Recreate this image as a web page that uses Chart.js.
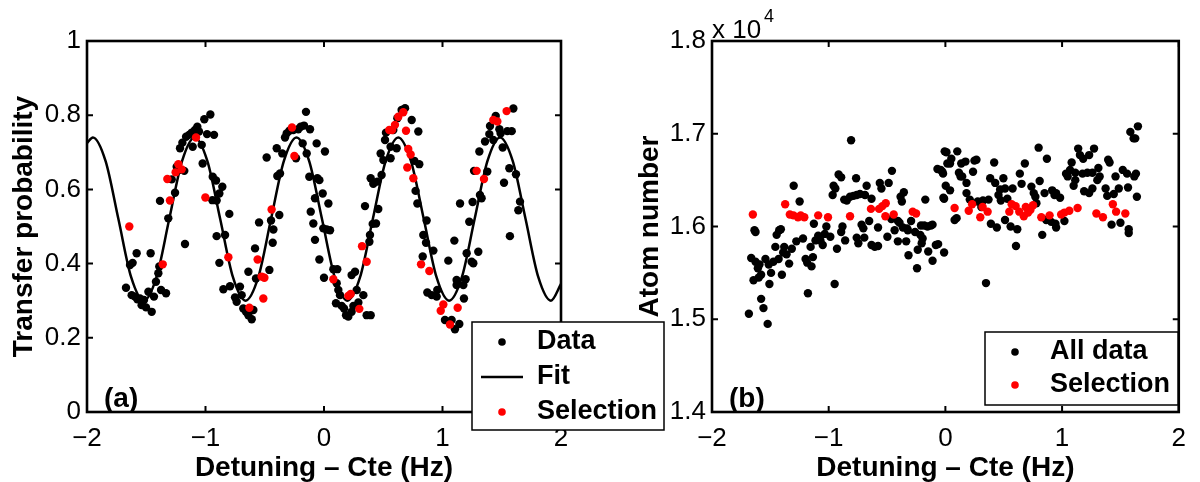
<!DOCTYPE html>
<html>
<head>
<meta charset="utf-8">
<script src="https://cdn.jsdelivr.net/npm/chart.js@4/dist/chart.umd.min.js"></script>
<style>
  html, body { margin: 0; padding: 0; background: #fff; }
  #wrap { position: relative; width: 1200px; height: 482px; }
  canvas { position: absolute; left: 0; top: 0; }
</style>
</head>
<body>
<div id="wrap">
  <canvas id="chartA" width="1200" height="482"></canvas>
  <canvas id="chartB" width="1200" height="482"></canvas>
</div>
<script>
// ---- panel (a) : transfer probability ----
const dataA = [
  [-1.384,0.569],[-1.314,0.522],[-1.285,0.627],[-1.257,0.591],[-1.243,0.661],[-1.224,0.652],[-1.179,0.650],[-1.215,0.711],
  [-1.195,0.726],[-1.164,0.742],[-1.139,0.747],[-1.117,0.753],[-1.089,0.760],[-1.069,0.769],[-1.055,0.756],[-1.108,0.715],
  [-1.032,0.720],[-1.010,0.789],[-0.959,0.802],[-0.987,0.749],[-0.928,0.747],[-1.024,0.670],[-0.939,0.634],[-0.911,0.624],
  [-0.858,0.607],[-0.883,0.589],[-0.942,0.571],[-0.906,0.570],[-0.799,0.534],[-0.484,0.686],[-0.548,0.511],[-0.447,0.516],
  [-0.377,0.531],[-0.394,0.636],[-0.371,0.643],[-0.399,0.711],[-0.352,0.697],[-0.329,0.740],[-0.315,0.751],[-0.292,0.758],
  [-0.259,0.760],[-0.217,0.762],[-0.197,0.769],[-0.169,0.772],[-0.118,0.762],[-0.152,0.809],[-0.180,0.724],[-0.146,0.697],
  [-0.236,0.684],[-0.062,0.724],[-0.124,0.634],[-0.056,0.630],[-0.039,0.625],[-0.011,0.589],[-0.076,0.576],[-0.112,0.540],
  [0.037,0.562],[-0.090,0.508],
  [0.008,0.702],[0.346,0.555],[0.394,0.630],[0.416,0.615],[0.450,0.621],[0.439,0.508],[0.458,0.547],[0.486,0.639],
  [0.478,0.697],[0.501,0.679],[0.515,0.733],[0.523,0.753],[0.562,0.684],[0.562,0.715],[0.585,0.760],[0.613,0.711],
  [0.619,0.792],[0.655,0.814],[0.684,0.819],[0.740,0.787],[0.796,0.756],[0.762,0.677],[0.804,0.668],[0.773,0.596],
  [0.788,0.562],[0.866,0.516],[1.148,0.562],[1.226,0.513],[1.254,0.566],[1.266,0.650],[1.316,0.585],[1.330,0.576],
  [1.311,0.702],[1.359,0.729],[1.378,0.648],[1.395,0.749],[1.401,0.771],[1.429,0.733],[1.449,0.798],[1.480,0.762],
  [1.491,0.751],[1.508,0.713],[1.519,0.618],[1.547,0.757],[1.584,0.757],[1.598,0.818],[1.564,0.657],[1.620,0.641],
  [1.654,0.567],[1.640,0.544],
  [-1.637,0.396],[-1.615,0.402],[-1.581,0.428],[-1.463,0.428],[-1.671,0.335],[-1.623,0.315],[-1.595,0.311],[-1.575,0.304],
  [-1.553,0.306],[-1.539,0.288],[-1.519,0.302],[-1.502,0.282],[-1.482,0.324],[-1.454,0.270],[-1.435,0.311],[-1.418,0.351],
  [-1.398,0.374],[-1.375,0.329],[-1.333,0.320],[-1.390,0.392],[-1.173,0.453],[-0.906,0.474],[-0.835,0.477],[-0.883,0.402],
  [-0.849,0.331],[-0.793,0.339],[-0.751,0.309],[-0.737,0.297],[-0.709,0.338],[-0.695,0.315],[-0.681,0.279],[-0.658,0.270],
  [-0.638,0.261],[-0.610,0.250],[-0.596,0.275],[-0.638,0.378],[-0.574,0.360],[-0.582,0.441],[-0.461,0.383],[-0.433,0.456],
  [-0.427,0.492],[-0.076,0.464],[-0.039,0.411],[0.000,0.362],
  [-0.006,0.495],[0.023,0.492],[0.051,0.490],[0.079,0.385],[0.112,0.385],[0.107,0.347],[0.121,0.329],[0.135,0.315],
  [0.101,0.293],[0.149,0.286],[0.169,0.279],[0.186,0.261],[0.205,0.257],[0.233,0.270],[0.248,0.286],[0.290,0.295],
  [0.332,0.315],[0.233,0.369],[0.262,0.378],[0.276,0.329],[0.360,0.261],[0.394,0.261],[0.383,0.459],[0.388,0.477],
  [0.411,0.507],[0.838,0.477],[0.861,0.456],[0.923,0.435],[0.833,0.419],[0.872,0.322],[0.909,0.315],[0.951,0.311],
  [0.956,0.329],[1.049,0.408],[1.100,0.462],[1.021,0.248],[1.077,0.248],[1.105,0.223],[1.142,0.237],[1.119,0.356],
  [1.119,0.342],[1.176,0.342],[1.195,0.358],[1.181,0.306],[1.204,0.428],[1.246,0.405],[1.260,0.401],[1.302,0.432],
  [1.569,0.474]
];
const selA = [
  [-1.643,0.500],[-1.322,0.628],[-1.300,0.570],[-1.252,0.646],[-1.229,0.668],[-1.201,0.654],[-1.080,0.740],[-1.001,0.578],
  [-0.442,0.546],[-0.270,0.767],[-0.250,0.690],[0.551,0.760],[0.574,0.760],[0.599,0.774],[0.627,0.796],[0.669,0.808],
  [0.692,0.758],[0.711,0.709],[0.731,0.694],[0.703,0.659],[0.754,0.630],[1.288,0.650],[1.350,0.628],[1.429,0.787],
  [1.463,0.783],[1.541,0.811],[-1.361,0.398],[-0.807,0.417],[-0.560,0.411],[-0.526,0.365],[-0.503,0.362],[-0.512,0.306],
  [-0.630,0.281],[0.079,0.358],[0.205,0.313],[0.225,0.318],[0.298,0.278],[0.321,0.447],[0.360,0.405],[0.819,0.398],
  [0.889,0.380],[1.007,0.290],[0.985,0.273],[1.128,0.281],[1.063,0.236]
];
// fit curve read at peaks, troughs and between them
const fitX = [-2.000,-1.950,-1.843,-1.735,-1.628,-1.520,-1.413,-1.306,-1.198,-1.091,-0.984,-0.876,-0.769,-0.662,
  -0.554,-0.447,-0.339,-0.232,-0.125,-0.017,0.090,0.197,0.305,0.412,0.520,0.627,0.734,0.842,0.949,1.056,1.164,
  1.271,1.379,1.486,1.593,1.701,1.808,1.915,2.000];
const fitY = [0.725,0.740,0.676,0.520,0.364,0.300,0.364,0.520,0.676,0.740,0.676,0.520,0.364,0.300,
  0.364,0.520,0.676,0.740,0.676,0.520,0.364,0.300,0.364,0.520,0.676,0.740,0.676,0.520,0.364,0.300,0.364,
  0.520,0.676,0.740,0.676,0.520,0.364,0.300,0.345];

// ---- panel (b) : atom number (x 10^4) ----
const dataB = [
  [-0.808,1.693],[-0.006,1.681],[0.017,1.668],[-0.068,1.662],[-0.026,1.659],[0.003,1.644],[-0.011,1.630],[-0.915,1.656],
  [-0.893,1.653],[-0.958,1.644],[-0.943,1.641],[-0.966,1.634],[-0.765,1.652],[-0.675,1.644],[-0.562,1.647],[-0.548,1.641],
  [-0.458,1.660],[-0.486,1.647],[-0.867,1.629],[-0.845,1.628],[-0.817,1.632],[-0.788,1.633],[-0.760,1.634],[-0.732,1.635],
  [-0.689,1.634],[-0.633,1.630],[-0.356,1.637],[-0.384,1.632],[-0.373,1.627],[-0.172,1.629],[-1.300,1.644],[-1.249,1.627],
  [-1.127,1.603],[-1.020,1.600],[-0.882,1.600],[-0.718,1.602],[-0.653,1.606],[-0.577,1.599],[-0.463,1.608],[-0.407,1.606],
  [-0.393,1.604],[-0.294,1.606],[-0.364,1.599],[-0.328,1.598],[-0.209,1.601],[-0.153,1.600],[-0.110,1.602],[-1.410,1.597],
  [-1.636,1.596],
  [1.585,1.702],[1.613,1.695],[1.627,1.695],[1.650,1.708],[0.799,1.685],[0.870,1.673],[1.138,1.684],[1.153,1.677],
  [1.181,1.673],[1.232,1.677],[1.274,1.684],[1.082,1.669],[0.009,1.680],[0.102,1.681],[0.051,1.673],[0.040,1.668],
  [0.136,1.668],[0.172,1.670],[0.249,1.671],[0.266,1.672],[0.418,1.669],[0.681,1.668],[-0.040,1.661],[-0.020,1.657],
  [0.116,1.658],[0.130,1.654],[0.144,1.654],[0.237,1.659],[0.384,1.652],[0.427,1.647],[0.497,1.652],[0.469,1.640],
  [0.455,1.634],[0.475,1.628],[0.511,1.641],[0.531,1.630],[0.576,1.641],[0.638,1.657],[0.653,1.646],[0.737,1.643],
  [0.757,1.636],[0.771,1.632],[0.808,1.649],[0.850,1.636],[0.915,1.639],[0.949,1.636],[0.935,1.634],[0.983,1.631],
  [1.034,1.657],[1.048,1.654],[1.068,1.661],[1.113,1.658],[1.113,1.650],[1.099,1.644],[1.175,1.657],[1.217,1.658],
  [1.260,1.658],[1.189,1.638],[1.232,1.636],[1.260,1.641],[1.311,1.663],[1.322,1.654],[1.302,1.650],[1.395,1.672],
  [1.407,1.669],[1.373,1.641],[1.387,1.633],[1.443,1.635],[1.458,1.654],[1.520,1.661],[1.557,1.657],[1.633,1.657],
  [1.619,1.654],[1.486,1.641],[1.565,1.642],[1.641,1.632],[-0.017,1.631],[0.040,1.639],[0.181,1.636],[0.209,1.629],
  [0.277,1.627],[0.322,1.628],[0.370,1.629],[0.308,1.621],[0.181,1.647],[0.079,1.607],[0.096,1.609],[0.390,1.603],
  [0.441,1.599],[0.511,1.607],[0.559,1.600],[0.616,1.597],[0.864,1.607],[0.907,1.605],[0.943,1.603],[0.949,1.599],
  [1.020,1.606],[1.424,1.602],[1.500,1.604],[1.571,1.597],[0.780,1.625],
  [-1.627,1.594],[-1.684,1.506],[-1.523,1.495],[-1.559,1.512],[-1.579,1.522],[-1.664,1.566],[-1.627,1.562],[-1.607,1.555],
  [-1.593,1.559],[-1.542,1.565],[-1.644,1.542],[-1.599,1.545],[-1.579,1.548],[-1.514,1.559],[-1.494,1.550],[-1.508,1.538],
  [-1.474,1.562],[-1.429,1.565],[-1.401,1.548],[-1.390,1.572],[-1.381,1.578],[-1.361,1.570],[-1.339,1.560],[-1.316,1.576],
  [-1.277,1.584],[-1.457,1.578],[-1.446,1.591],[-1.424,1.596],[-1.220,1.587],[-1.198,1.565],[-1.184,1.561],[-1.147,1.557],
  [-1.135,1.567],[-1.155,1.578],[-1.178,1.528],[-1.113,1.585],[-1.090,1.590],[-1.071,1.585],[-1.051,1.580],[-1.034,1.592],
  [-0.986,1.589],[-0.949,1.538],[-0.929,1.576],[-0.893,1.594],[-0.859,1.585],[-0.760,1.588],[-0.746,1.582],[-0.703,1.598],
  [-0.695,1.588],[-0.633,1.580],[-0.605,1.578],[-0.577,1.579],[-0.497,1.589],[-0.435,1.596],[-0.407,1.584],[-0.336,1.584],
  [-0.322,1.596],[-0.316,1.569],[-0.260,1.594],[-0.237,1.575],[-0.215,1.591],[-0.195,1.587],[-0.203,1.582],[-0.181,1.601],
  [-0.124,1.601],[-0.147,1.573],[-0.110,1.563],[-0.082,1.580],[-0.062,1.581],[-0.011,1.572],[-0.243,1.555],
  [0.605,1.579],[0.830,1.591],[0.348,1.539],[1.571,1.593]
];
const selB = [
  [-1.650,1.613],[-1.373,1.624],[-1.333,1.613],[-1.302,1.612],[-1.263,1.610],[-1.240,1.612],[-1.209,1.610],[-1.090,1.612],
  [-1.006,1.610],[-0.817,1.611],[-0.638,1.619],[-0.568,1.619],[-0.540,1.622],[-0.511,1.625],[-0.514,1.611],[-0.443,1.613],
  [-0.280,1.616],[-0.251,1.614],[0.079,1.620],[0.200,1.617],[0.229,1.624],[0.299,1.610],[0.319,1.621],[0.362,1.616],
  [0.548,1.616],[0.568,1.624],[0.602,1.622],[0.633,1.616],[0.672,1.611],[0.689,1.621],[0.709,1.615],[0.751,1.623],
  [0.729,1.618],[0.822,1.610],[0.893,1.612],[0.992,1.613],[1.020,1.615],[1.062,1.617],[1.133,1.620],[1.294,1.614],
  [1.350,1.610],[1.435,1.624],[1.463,1.616],[1.542,1.614]
];

const xTicks = [-2, -1, 0, 1, 2];
const FONT = "'Liberation Sans', Arial, Helvetica, sans-serif";

const pts = arr => arr.map(p => ({ x: p[0], y: p[1] }));
const fmtX = v => (v < 0 ? '\u2212' + Math.abs(v) : String(v));

// MATLAB style box with inward ticks on all four sides
const boxAxes = {
  id: 'boxAxes',
  afterDatasetsDraw(chart) {
    const { ctx, chartArea: a, scales: { x, y } } = chart;
    ctx.save();
    ctx.strokeStyle = '#000';
    ctx.lineWidth = 2;
    ctx.beginPath();
    x.ticks.forEach(t => {
      const px = x.getPixelForValue(t.value);
      ctx.moveTo(px, a.bottom); ctx.lineTo(px, a.bottom - 6);
      ctx.moveTo(px, a.top); ctx.lineTo(px, a.top + 6);
    });
    y.ticks.forEach(t => {
      const py = y.getPixelForValue(t.value);
      ctx.moveTo(a.left, py); ctx.lineTo(a.left + 6, py);
      ctx.moveTo(a.right, py); ctx.lineTo(a.right - 6, py);
    });
    ctx.stroke();
    ctx.lineWidth = 2.6;
    ctx.strokeRect(a.left, a.top, a.right - a.left, a.bottom - a.top);
    ctx.restore();
  }
};

// boxed legend + panel letter, drawn on top of everything
const boxLegend = {
  id: 'boxLegend',
  afterDraw(chart, args, o) {
    const ctx = chart.ctx;
    ctx.save();
    ctx.fillStyle = '#fff';
    ctx.fillRect(o.left, o.top, o.width, o.height);
    ctx.strokeStyle = '#000';
    ctx.lineWidth = 1.5;
    ctx.strokeRect(o.left, o.top, o.width, o.height);
    ctx.font = 'bold 27px ' + FONT;
    ctx.textBaseline = 'middle';
    o.items.forEach((it, i) => {
      const yy = o.top + o.first + i * o.step;
      if (it.line) {
        ctx.strokeStyle = '#000';
        ctx.lineWidth = 2.5;
        ctx.beginPath();
        ctx.moveTo(o.markX - 21, yy); ctx.lineTo(o.markX + 21, yy);
        ctx.stroke();
      } else {
        ctx.fillStyle = it.color;
        ctx.beginPath();
        ctx.arc(o.markX, yy, 3.8, 0, Math.PI * 2);
        ctx.fill();
      }
      ctx.fillStyle = '#000';
      ctx.fillText(it.label, o.textX, yy);
    });
    ctx.font = 'bold 28px ' + FONT;
    ctx.fillText(o.tag, o.tagX, o.tagY);
    if (o.exponent) {
      ctx.textBaseline = 'alphabetic';
      ctx.font = '26px ' + FONT;
      ctx.fillText('x 10', o.exponent.x, o.exponent.y);
      ctx.font = '18px ' + FONT;
      ctx.fillText('4', o.exponent.x + 52, o.exponent.y - 16);
    }
    ctx.restore();
  }
};

function axisX() {
  return {
    type: 'linear', min: -2, max: 2,
    afterBuildTicks: s => { s.ticks = xTicks.map(v => ({ value: v })); },
    afterFit: s => { s.height = 70; },
    grid: { display: false, drawTicks: false },
    border: { display: false },
    ticks: { color: '#000', padding: 14, font: { family: FONT, size: 26, lineHeight: 1 }, callback: fmtX },
    title: { display: true, text: 'Detuning \u2013 Cte (Hz)', color: '#000', padding: { top: 0, bottom: 0 },
             font: { family: FONT, size: 28, weight: 'bold', lineHeight: 1 } }
  };
}

function axisY(min, max, step, width, title, titlePad) {
  return {
    type: 'linear', min: min, max: max,
    afterFit: s => { s.width = width; },
    grid: { display: false, drawTicks: false },
    border: { display: false },
    ticks: { stepSize: step, color: '#000', padding: 6, font: { family: FONT, size: 26, lineHeight: 1 },
             callback: v => String(+v.toFixed(1)) },
    title: { display: true, text: title, color: '#000', padding: { top: titlePad, bottom: 0 },
             font: { family: FONT, size: 28, weight: 'bold', lineHeight: 1 } }
  };
}

const common = {
  responsive: false,
  animation: false,
  events: [],
  plugins: { legend: { display: false }, tooltip: { enabled: false } }
};

new Chart(document.getElementById('chartA'), {
  type: 'scatter',
  data: {
    datasets: [
      { label: 'Selection', data: pts(selA), order: 0, pointRadius: 4.2, pointBorderWidth: 0,
        pointBackgroundColor: '#ff0000', borderColor: '#ff0000' },
      { label: 'Fit', data: fitX.map((x, i) => ({ x: x, y: fitY[i] })), order: 1, showLine: true,
        cubicInterpolationMode: 'monotone', pointRadius: 0, borderColor: '#000', borderWidth: 2.5 },
      { label: 'Data', data: pts(dataA), order: 2, pointRadius: 4.2, pointBorderWidth: 0,
        pointBackgroundColor: '#000', borderColor: '#000' }
    ]
  },
  options: {
    ...common,
    layout: { padding: { left: 0, right: 639, top: 41, bottom: 0 } },
    scales: { x: axisX(), y: axisY(0, 1, 0.2, 87, 'Transfer probability', 10) },
    plugins: {
      ...common.plugins,
      boxLegend: {
        left: 472, top: 322, width: 192, height: 108, first: 20, step: 35, markX: 502, textX: 537,
        items: [{ label: 'Data', color: '#000' }, { label: 'Fit', line: true }, { label: 'Selection', color: '#ff0000' }],
        tag: '(a)', tagX: 104, tagY: 399
      }
    }
  },
  plugins: [boxAxes, boxLegend]
});

new Chart(document.getElementById('chartB'), {
  type: 'scatter',
  data: {
    datasets: [
      { label: 'Selection', data: pts(selB), order: 0, pointRadius: 4.2, pointBorderWidth: 0,
        pointBackgroundColor: '#ff0000', borderColor: '#ff0000' },
      { label: 'All data', data: pts(dataB), order: 1, pointRadius: 4.2, pointBorderWidth: 0,
        pointBackgroundColor: '#000', borderColor: '#000' }
    ]
  },
  options: {
    ...common,
    layout: { padding: { left: 632, right: 16, top: 41, bottom: 0 } },
    scales: { x: axisX(), y: axisY(1.4, 1.8, 0.1, 80, 'Atom number', 4) },
    plugins: {
      ...common.plugins,
      boxLegend: {
        left: 985, top: 332, width: 193, height: 73, first: 20, step: 33, markX: 1015, textX: 1050,
        items: [{ label: 'All data', color: '#000' }, { label: 'Selection', color: '#ff0000' }],
        tag: '(b)', tagX: 729, tagY: 399,
        exponent: { x: 712, y: 38 }
      }
    }
  },
  plugins: [boxAxes, boxLegend]
});
</script>
</body>
</html>
